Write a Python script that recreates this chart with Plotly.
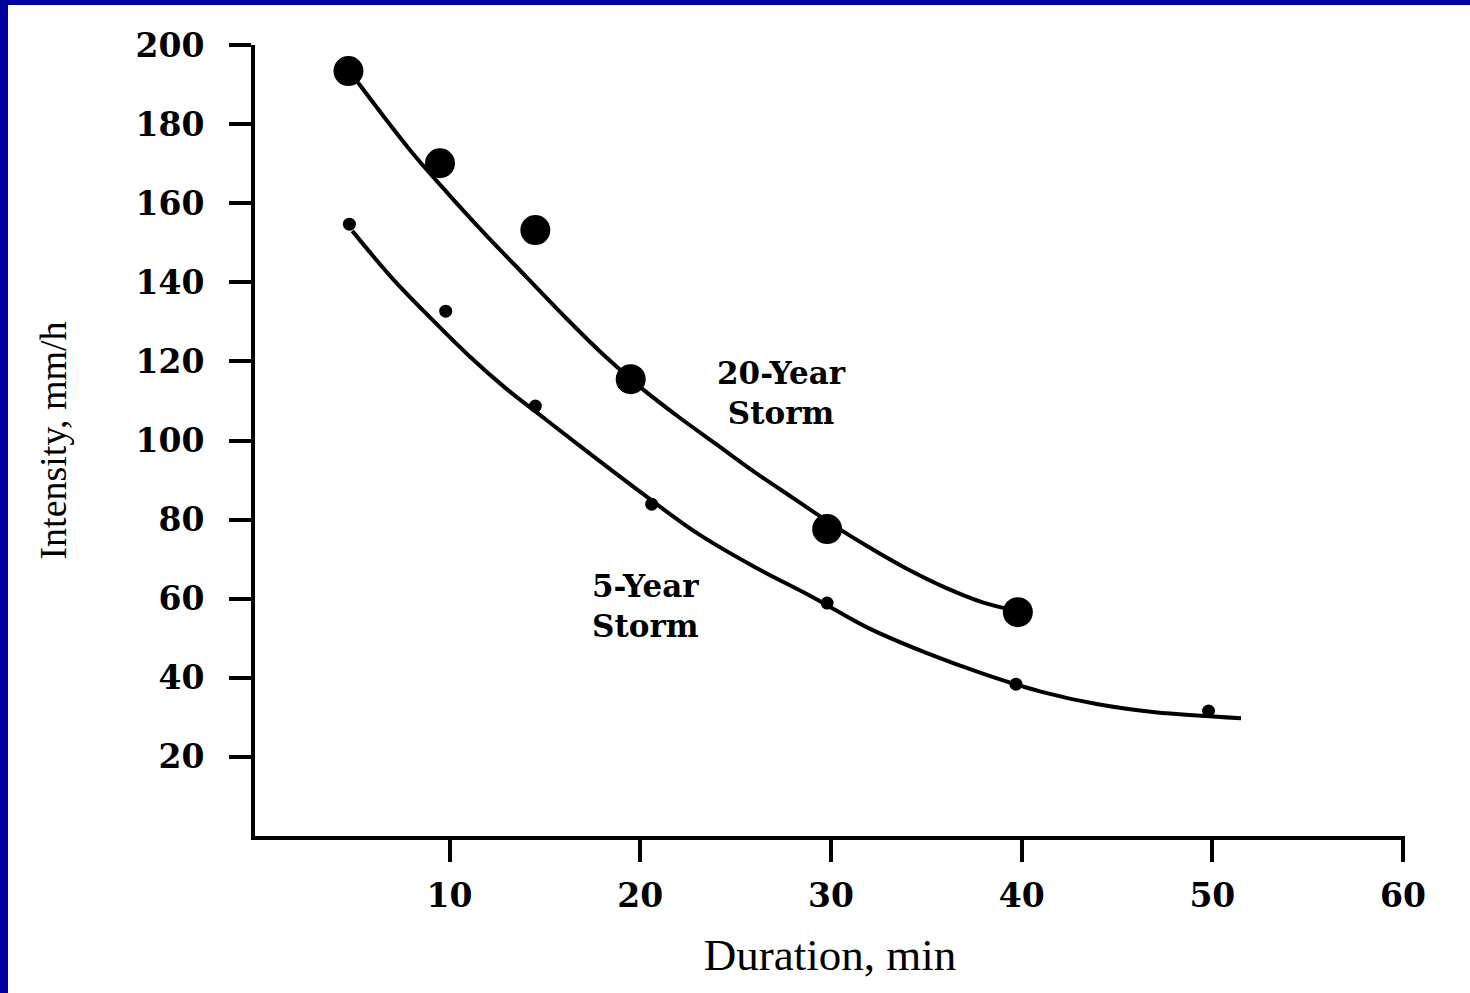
import plotly.graph_objects as go

# Observed data points
dur_20yr = [4.7, 9.5, 14.5, 19.5, 29.8, 39.8]
int_20yr = [193.4, 170.1, 153.2, 115.5, 77.6, 56.6]
dur_5yr = [4.75, 9.8, 14.5, 20.6, 29.8, 39.7, 49.8]
int_5yr = [154.7, 132.7, 108.7, 83.9, 58.9, 38.4, 31.6]

# Fitted curves
curve20_x = [5.2, 8, 10, 12, 14, 16, 18, 20, 22, 24, 26, 28, 30, 32, 34, 36, 38, 39.4]
curve20_y = [190.5, 173, 162, 151.5, 141.5, 131.5, 122, 113.5, 106, 99, 92, 85.5, 79, 73, 67.5, 62.8, 59, 57.3]
curve5_x = [4.9, 7, 9, 11, 13, 15, 17, 20, 23, 26, 29, 32, 35, 38, 41, 44, 47, 51.5]
curve5_y = [153, 141, 131, 121.5, 113, 105.5, 98, 87, 76.5, 68, 60.5, 52.5, 46.3, 41, 36.5, 33.3, 31.3, 29.8]

x_ticks = [10, 20, 30, 40, 50, 60]
y_ticks = [20, 40, 60, 80, 100, 120, 140, 160, 180, 200]

labels = ["20-Year<br>Storm", "5-Year<br>Storm"]
label_x = [27.42, 20.28]
label_y = [112.1, 58.1]

fig = go.Figure()
fig.add_trace(go.Scatter(x=curve20_x, y=curve20_y, mode="lines",
                         line=dict(color="black", width=4, shape="spline", smoothing=1.0),
                         showlegend=False, hoverinfo="skip"))
fig.add_trace(go.Scatter(x=curve5_x, y=curve5_y, mode="lines",
                         line=dict(color="black", width=4, shape="spline", smoothing=1.0),
                         showlegend=False, hoverinfo="skip"))
fig.add_trace(go.Scatter(x=dur_20yr, y=int_20yr, mode="markers",
                         marker=dict(color="black", size=30), name="20-Year Storm", showlegend=False))
fig.add_trace(go.Scatter(x=dur_5yr, y=int_5yr, mode="markers",
                         marker=dict(color="black", size=13), name="5-Year Storm", showlegend=False))

for t, lx, ly in zip(labels, label_x, label_y):
    fig.add_annotation(x=lx, y=ly, text=t, showarrow=False,
                       font=dict(family="DejaVu Serif", size=31, color="black", weight="bold"),
                       align="center")

L, R, T, B = 255, 65, 45, 157
W, H = 1470, 993
pw, ph = W - L - R, H - T - B
# blue frame along top and left edges of the slide
fig.add_shape(type="rect", xref="paper", yref="paper",
              x0=(0 - L) / pw, x1=(8 - L) / pw, y0=-B / ph, y1=1 + T / ph,
              fillcolor="#00009C", line=dict(width=0), layer="below")
fig.add_shape(type="rect", xref="paper", yref="paper",
              x0=(0 - L) / pw, x1=(W - L) / pw, y0=1 + (T - 5) / ph, y1=1 + T / ph,
              fillcolor="#00009C", line=dict(width=0), layer="below")

tickfont = dict(family="DejaVu Serif", size=33, color="black", weight="bold")
fig.update_layout(
    width=W, height=H,
    margin=dict(l=L, r=R, t=T, b=B, pad=0),
    paper_bgcolor="white", plot_bgcolor="white",
    xaxis=dict(range=[-0.2, 60.1], tickvals=x_ticks, ticktext=[str(v) for v in x_ticks],
               showgrid=False, zeroline=False, showline=True, linecolor="black", linewidth=4,
               ticks="outside", ticklen=22, tickwidth=4, tickcolor="black",
               tickfont=tickfont, ticklabelstandoff=5,
               title=dict(text="Duration, min", font=dict(family="Liberation Serif", size=45, color="black"),
                          standoff=26)),
    yaxis=dict(range=[0, 200], tickvals=y_ticks, ticktext=[str(v) for v in y_ticks],
               showgrid=False, zeroline=False, showline=True, linecolor="black", linewidth=4,
               ticks="outside", ticklen=22, tickwidth=4, tickcolor="black",
               tickfont=tickfont, ticklabelstandoff=18,
               title=dict(text="Intensity, mm/h", font=dict(family="Liberation Serif", size=38, color="black"),
                          standoff=58)),
)

fig.write_html("out.html", config={"displayModeBar": False},
               post_script="document.body.style.margin='0px';document.body.style.overflow='hidden';")
